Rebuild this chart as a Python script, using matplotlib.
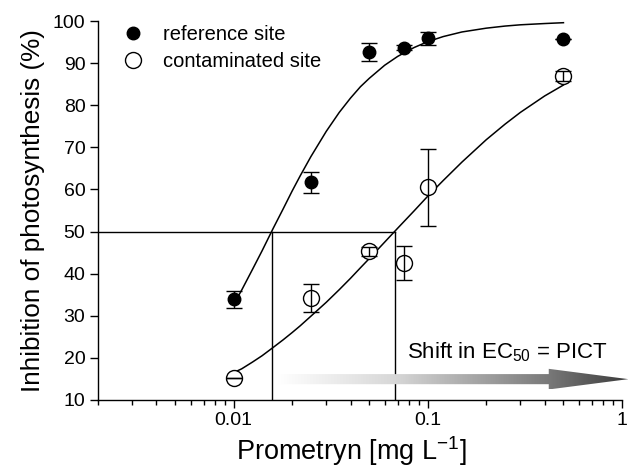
import numpy as np
import matplotlib
matplotlib.use("Agg")
import matplotlib.pyplot as plt
from matplotlib.patches import Polygon
from matplotlib.colors import LinearSegmentedColormap

plt.rcParams['font.family'] = ['Liberation Sans', 'DejaVu Sans']
plt.rcParams['mathtext.fontset'] = 'custom'
plt.rcParams['mathtext.rm'] = 'Liberation Sans'
plt.rcParams['mathtext.it'] = 'Liberation Sans:italic'
plt.rcParams['mathtext.bf'] = 'Liberation Sans:bold'

# ---- data ----
conc = [0.01, 0.025, 0.05, 0.075, 0.1, 0.5]

ref_mean = [33.9, 61.7, 92.6, 93.7, 95.9, 95.8]
ref_err = [2.1, 2.5, 2.2, 0.7, 1.6, 0.0]

cont_mean = [15.2, 34.2, 45.3, 42.5, 60.5, 87.0]
cont_err = [0.0, 3.3, 1.0, 4.0, 9.2, 1.2]

# fitted dose-response curves
curve_x = [0.01, 0.011, 0.0125, 0.014, 0.016, 0.018, 0.02, 0.022, 0.025,
           0.03, 0.035, 0.04, 0.045, 0.05, 0.06, 0.07, 0.085, 0.1, 0.12,
           0.15, 0.2, 0.25, 0.3, 0.4, 0.5]
ref_curve = [32.7, 36.1, 41.0, 45.4, 50.8, 55.4, 59.6, 63.2, 67.8,
             73.8, 78.3, 81.7, 84.4, 86.4, 89.5, 91.6, 93.7, 95.1, 96.3,
             97.4, 98.3, 98.8, 99.1, 99.4, 99.6]
cont_curve = [16.5, 17.4, 19.0, 20.5, 22.5, 24.3, 26.0, 27.6, 29.9,
              33.2, 36.2, 38.9, 41.4, 43.6, 47.5, 50.8, 54.9, 58.4, 62.1,
              66.5, 71.8, 75.5, 78.3, 82.2, 84.8]

ec50_ref = 0.0157
ec50_cont = 0.0675
ec_level = 50

xlim = (0.002, 1.0)
ylim = (10, 100)
yticks = [10, 20, 30, 40, 50, 60, 70, 80, 90, 100]
xticks = [0.01, 0.1, 1]
xticklabels = ['0.01', '0.1', '1']

legend_labels = ['reference site', 'contaminated site']
xlabel = 'Prometryn [mg L$^{-1}$]'
ylabel = 'Inhibition of photosynthesis (%)'
shift_text = 'Shift in EC$_{50}$ = PICT'

# arrow (in data values)
arrow_start = 0.0168
arrow_y = 14.95
arrow_body_half = 1.2
arrow_head_half = 2.45
arrow_head_start = 0.42
arrow_end = 1.08

# ---- figure ----
fig = plt.figure(figsize=(6.32, 4.67), dpi=100)
ax = fig.add_axes([0.155, 0.1435, 0.829, 0.8115])
ax.set_xscale('log')
ax.set_xlim(*xlim)
ax.set_ylim(*ylim)

# EC50 guide lines
ax.plot([xlim[0], ec50_cont], [ec_level, ec_level], color='black', lw=1.0, zorder=1)
ax.plot([ec50_ref, ec50_ref], [ylim[0], ec_level], color='black', lw=1.0, zorder=1)
ax.plot([ec50_cont, ec50_cont], [ylim[0], ec_level], color='black', lw=1.0, zorder=1)

# fitted curves
ax.plot(curve_x, ref_curve, color='black', lw=1.1, zorder=2)
ax.plot(curve_x, cont_curve, color='black', lw=1.1, zorder=2)

# markers
h1, = ax.plot(conc, ref_mean, 'o', ms=9, color='black', mec='black', zorder=3,
              label=legend_labels[0])
h2, = ax.plot(conc, cont_mean, 'o', ms=11.5, mfc='white', mec='black', mew=1.0,
              zorder=3, label=legend_labels[1])
ax.errorbar(conc, ref_mean, yerr=ref_err, fmt='none', ecolor='black', elinewidth=1.0,
            capsize=6, capthick=1.0, zorder=4)
ax.errorbar(conc, cont_mean, yerr=cont_err, fmt='none', ecolor='black', elinewidth=1.0,
            capsize=6, capthick=1.0, zorder=4)

# ticks & spines
ax.set_xticks(xticks)
ax.set_xticklabels(xticklabels)
ax.set_yticks(yticks)
ax.tick_params(axis='both', which='major', direction='out', length=6, width=1.0,
               labelsize=14, pad=3)
ax.tick_params(axis='x', which='minor', direction='out', length=3.5, width=1.0)
ax.tick_params(axis='x', which='minor', labelbottom=False)
for s in ['top', 'right']:
    ax.spines[s].set_visible(False)
for s in ['left', 'bottom']:
    ax.spines[s].set_linewidth(1.0)

ax.set_xlabel(xlabel, fontsize=19.5, labelpad=3)
ax.xaxis.set_label_coords(0.484, -0.09)
ax.set_ylabel(ylabel, fontsize=18.8, labelpad=6)

# legend
ax.legend(handles=[h1, h2], loc='upper left', bbox_to_anchor=(0.033, 1.011),
          frameon=False, fontsize=14.5, handlelength=1.0, handletextpad=0.95,
          labelspacing=0.42, borderaxespad=0)

ax.text(0.845, 21.4, shift_text, ha='right', va='center', fontsize=16, zorder=6)

# gradient arrow: overlay axes in figure fraction so the tip may pass the x-axis end
fig.canvas.draw()
to_fig = ax.transData + fig.transFigure.inverted()
def fig_pt(x, y):
    return to_fig.transform((x, y))
pts = np.array([fig_pt(arrow_start, arrow_y - arrow_body_half),
                fig_pt(arrow_head_start, arrow_y - arrow_body_half),
                fig_pt(arrow_head_start, arrow_y - arrow_head_half),
                fig_pt(arrow_end, arrow_y),
                fig_pt(arrow_head_start, arrow_y + arrow_head_half),
                fig_pt(arrow_head_start, arrow_y + arrow_body_half),
                fig_pt(arrow_start, arrow_y + arrow_body_half)])
ov = fig.add_axes([0, 0, 1, 1], zorder=5)
ov.set_xlim(0, 1)
ov.set_ylim(0, 1)
ov.axis('off')
ov.patch.set_alpha(0)
poly = Polygon(pts, closed=True, facecolor='none', edgecolor='none')
ov.add_patch(poly)
x0, x1 = pts[:, 0].min(), pts[:, 0].max()
y0, y1 = pts[:, 1].min(), pts[:, 1].max()
grad = np.linspace(0, 1, 512).reshape(1, -1)
cmap = LinearSegmentedColormap.from_list(
    'g', [(0.0, '#ffffff'), (0.33, '#d8d8d8'), (0.77, '#7a7a7a'), (1.0, '#3c3c3c')])
im = ov.imshow(grad, extent=[x0, x1, y0, y1], cmap=cmap, aspect='auto',
               interpolation='bilinear')
im.set_clip_path(poly)
ov.set_xlim(0, 1)
ov.set_ylim(0, 1)

fig.savefig('out.png', dpi=100)
